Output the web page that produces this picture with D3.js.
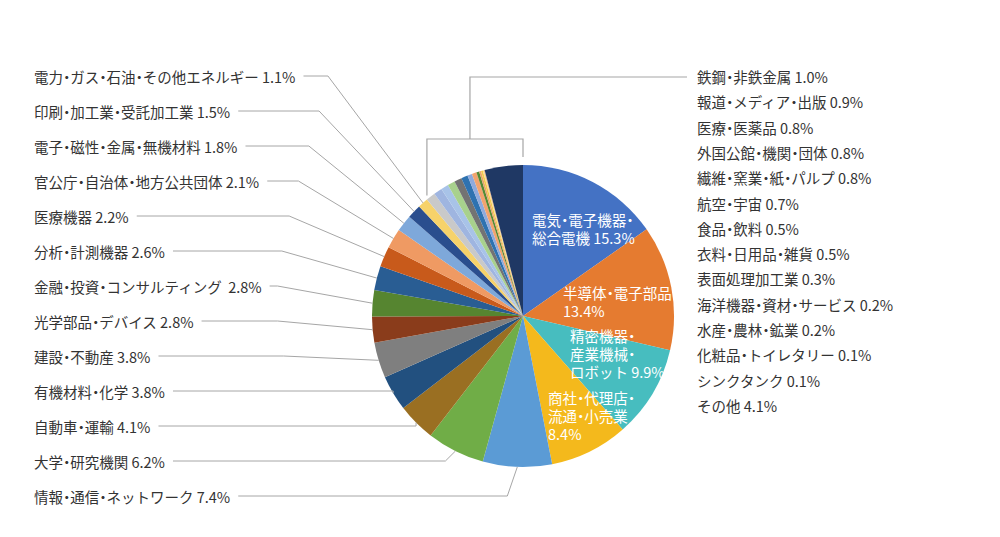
<!DOCTYPE html>
<html>
<head>
<meta charset="utf-8">
<script src="https://cdn.jsdelivr.net/npm/d3@7"></script>
<style>
  html, body { margin: 0; padding: 0; background: #ffffff; }
  svg text { font-family: "Noto Sans CJK JP", "Noto Sans", sans-serif; }
  svg tspan.dot { font-feature-settings: "palt"; }
</style>
</head>
<body>
<svg id="chart" width="1000" height="537"></svg>
<script>
// ---- data ----
const categories = [
  "電気・電子機器・総合電機", "半導体・電子部品", "精密機器・産業機械・ロボット", "商社・代理店・流通・小売業",
  "情報・通信・ネットワーク", "大学・研究機関", "自動車・運輸", "有機材料・化学", "建設・不動産",
  "光学部品・デバイス", "金融・投資・コンサルティング", "分析・計測機器", "医療機器",
  "官公庁・自治体・地方公共団体", "電子・磁性・金属・無機材料", "印刷・加工業・受託加工業",
  "電力・ガス・石油・その他エネルギー", "鉄鋼・非鉄金属", "報道・メディア・出版", "医療・医薬品",
  "外国公館・機関・団体", "繊維・窯業・紙・パルプ", "航空・宇宙", "食品・飲料", "衣料・日用品・雑貨",
  "表面処理加工業", "海洋機器・資材・サービス", "水産・農林・鉱業", "化粧品・トイレタリー",
  "シンクタンク", "その他"
];
const values = [
  15.3, 13.4, 9.9, 8.4,
  7.4, 6.2, 4.1, 3.8, 3.8,
  2.8, 2.8, 2.6, 2.2,
  2.1, 1.8, 1.5,
  1.1, 1.0, 0.9, 0.8,
  0.8, 0.8, 0.7, 0.5, 0.5,
  0.3, 0.2, 0.2, 0.1,
  0.1, 4.1
];
// inside labels (first four slices), split into lines; the last line gets the percentage
const insideLines = [
  ["電気・電子機器・", "総合電機"],
  ["半導体・電子部品", ""],
  ["精密機器・", "産業機械・", "ロボット"],
  ["商社・代理店・", "流通・小売業", ""]
];
const leftIdx = [16, 15, 14, 13, 12, 11, 10, 9, 8, 7, 6, 5, 4];     // top -> bottom
const rightIdx = [17, 18, 19, 20, 21, 22, 23, 24, 25, 26, 27, 28, 29, 30];

// ---- styles ----
const palette = [
  "#4472c4", "#e57b30", "#47bdbf", "#f4b91c", "#5b9bd5", "#70ad47", "#9a6f22", "#22507f",
  "#7f7f7f", "#8a3c1b", "#568530", "#295d93", "#c85a1b", "#ef9a63", "#7ea8da", "#2a4e8e",
  "#f6d26a", "#c9c9c9", "#9fb5e0", "#a8c3e8", "#a8d18d", "#737373", "#2e72b0", "#8faadc",
  "#f2a36e", "#558a34", "#e7a46c", "#f4c84c", "#f7e08a", "#f3b77f", "#1f3864"
];
const textColor = "#333333";
const lineColor = "#a6a6a6";
const fs = 14.5;

const svg = d3.select("#chart");
const cx = 523, cy = 316, r = 151;
const fmt = v => d3.format(".1f")(v) + "%";

// append a string, rendering the middle dots proportionally
function addRich(parent, str) {
  str.split(/(・)/).filter(s => s.length).forEach(seg => {
    const ts = parent.append("tspan").text(seg);
    if (seg === "・") ts.attr("class", "dot");
  });
}

const pie = d3.pie().sort(null).value(d => d)(values);
const arc = d3.arc().innerRadius(0).outerRadius(r);

const g = svg.append("g").attr("transform", `translate(${cx},${cy})`);
g.selectAll("path.slice").data(pie).join("path")
  .attr("class", "slice")
  .attr("d", arc)
  .attr("fill", (d, i) => palette[i]);

// inside labels
const insideAnchors = [[532, 219], [563, 292], [570, 335], [548, 397]];
insideLines.forEach((lines, i) => {
  lines.forEach((ln, j) => {
    const last = j === lines.length - 1;
    const s = last ? (ln ? ln + " " + fmt(values[i]) : fmt(values[i])) : ln;
    const t = svg.append("text")
      .attr("x", insideAnchors[i][0]).attr("y", insideAnchors[i][1] + j * 18)
      .attr("fill", "#ffffff").attr("font-size", fs)
      .attr("dominant-baseline", "central");
    addRich(t, s);
  });
});

// point on the circle for a given angle
const pt = (a, rad) => [cx + rad * Math.sin(a), cy - rad * Math.cos(a)];

// left labels with leader lines
const leftX = 34, leftY0 = 76, leftStep = 35;
leftIdx.forEach((idx, k) => {
  const y = leftY0 + k * leftStep;
  const label = categories[idx] + (idx === 10 ? "\u00a0\u00a0" : " ") + fmt(values[idx]);
  const t = svg.append("text")
    .attr("x", leftX).attr("y", y)
    .attr("fill", textColor).attr("font-size", fs)
    .attr("dominant-baseline", "central");
  addRich(t, label);
  const tEnd = leftX + t.node().getComputedTextLength();
  const d = pie[idx];
  const mid = (d.startAngle + d.endAngle) / 2;
  const [ax, ay] = pt(mid, r);
  let bx;
  if (ay > y + 4) bx = ax - 95;
  else if (ay < y - 4) bx = ax - 10;
  else bx = ax;
  bx = Math.max(bx, tEnd + 12);
  svg.append("polyline")
    .attr("points", [[tEnd + 8, y], [bx, y], [ax, ay]].map(p => p.join(",")).join(" "))
    .attr("fill", "none").attr("stroke", lineColor).attr("stroke-width", 1);
});

// right labels
const rightX = 697, rightY0 = 76, rightStep = 25.3;
rightIdx.forEach((idx, k) => {
  const t = svg.append("text")
    .attr("x", rightX).attr("y", rightY0 + k * rightStep)
    .attr("fill", textColor).attr("font-size", fs)
    .attr("dominant-baseline", "central");
  addRich(t, categories[idx] + " " + fmt(values[idx]));
});

// bracket leader for the small slices listed on the right
const startA = pie[rightIdx[0]].startAngle;
const [lx, ly] = pt(startA, r);
const rx = cx;
const by = 139, topY = 77;
const stemX = (lx + rx) / 2 - 5;
svg.append("path")
  .attr("d", `M${lx},${ly - 4} V${by} H${rx} V${cy - r - 8} M${stemX},${by} V${topY} H${rightX - 10}`)
  .attr("fill", "none").attr("stroke", lineColor).attr("stroke-width", 1.2);
</script>
</body>
</html>
